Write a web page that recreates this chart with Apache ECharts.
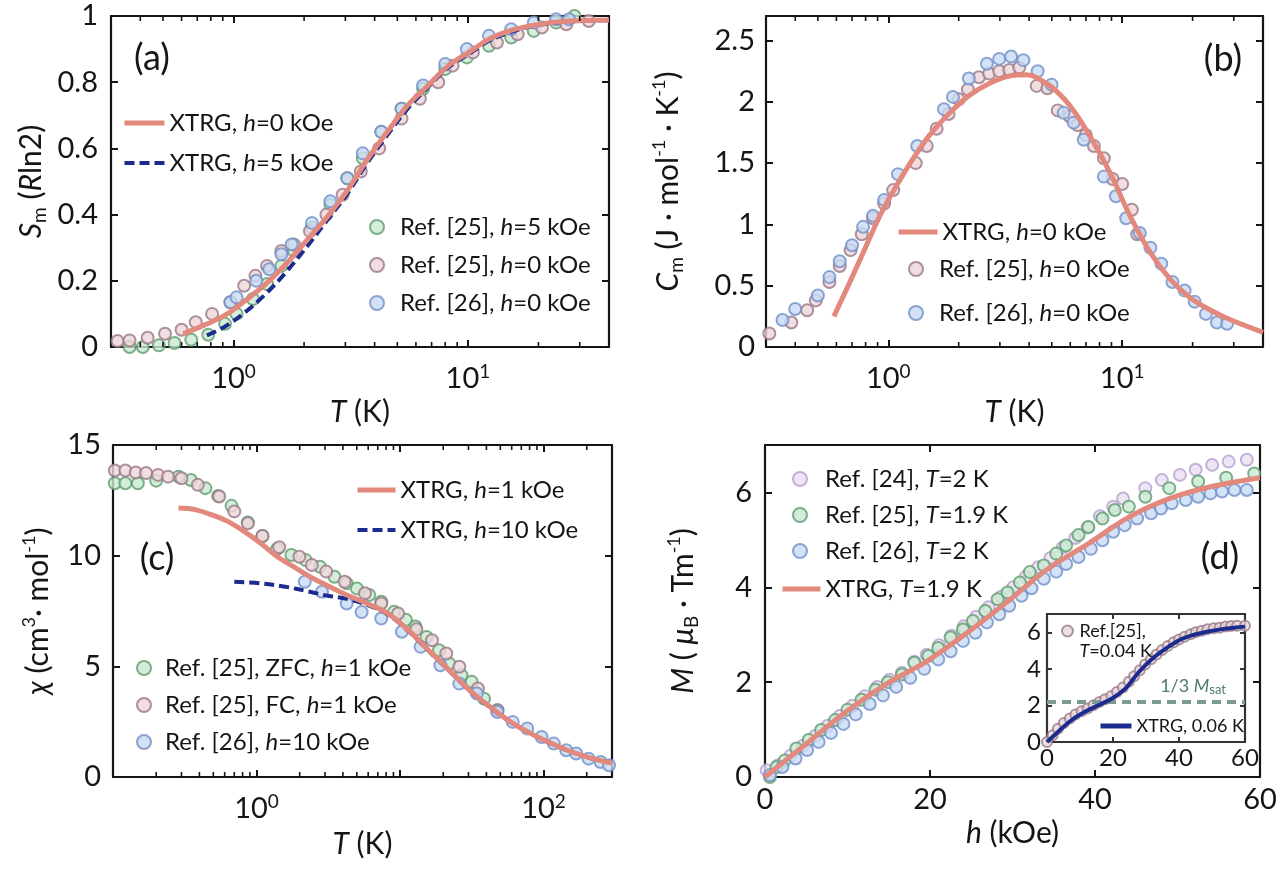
<!DOCTYPE html>
<html>
<head>
<meta charset="utf-8">
<title>XTRG vs experiment</title>
<script src="https://cdn.jsdelivr.net/npm/echarts@6/dist/echarts.min.js"></script>
<style>
html, body { margin: 0; padding: 0; background: #fff; }
#main { width: 1280px; height: 876px; }
</style>
</head>
<body>
<div id="main"></div>
<script>
// (a) magnetic entropy, S_m in units of R ln2
var aXtrg0T = [0.61, 0.75, 0.92, 1.12, 1.37, 1.67, 2.04, 2.49, 3.04, 3.71, 4.53, 5.53, 6.76, 8.26, 10.1, 12.3, 15.0, 18.4, 22.4, 27.4, 40];
var aXtrg0S = [0.04, 0.066, 0.096, 0.14, 0.19, 0.25, 0.32, 0.39, 0.47, 0.565, 0.65, 0.73, 0.79, 0.85, 0.89, 0.93, 0.955, 0.97, 0.98, 0.985, 0.988];
var aXtrg5T = [0.77, 0.92, 1.12, 1.37, 1.67, 2.04, 2.49, 3.04, 3.71, 4.53, 5.53, 6.76, 8.26, 10.1, 12.3, 15.0, 18.4, 22.4, 27.4, 40];
var aXtrg5S = [0.035, 0.062, 0.105, 0.16, 0.225, 0.3, 0.38, 0.46, 0.555, 0.64, 0.72, 0.785, 0.845, 0.885, 0.925, 0.95, 0.968, 0.978, 0.984, 0.987];
var aRef25h5T = [0.36, 0.41, 0.48, 0.56, 0.66, 0.78, 0.92, 1.03, 1.21, 1.39, 1.6, 1.81, 2.16, 2.59, 3.06, 3.56, 4.27, 5.21, 6.44, 8.0, 9.9, 12.3, 15.3, 19.1, 23.8, 28.5];
var aRef25h5S = [0.0, 0.0, 0.005, 0.012, 0.022, 0.037, 0.07, 0.1, 0.145, 0.19, 0.245, 0.29, 0.36, 0.43, 0.51, 0.57, 0.65, 0.72, 0.78, 0.84, 0.875, 0.91, 0.935, 0.955, 0.98, 1.0];
var aRef25h0T = [0.32, 0.36, 0.43, 0.51, 0.6, 0.69, 0.81, 0.97, 1.11, 1.24, 1.39, 1.6, 1.81, 2.12, 2.49, 2.92, 3.49, 4.18, 5.21, 6.24, 7.47, 8.6, 10.5, 13.3, 16.3, 20.7, 26.3, 32.8];
var aRef25h0S = [0.018, 0.02, 0.028, 0.04, 0.052, 0.075, 0.1, 0.135, 0.185, 0.215, 0.245, 0.29, 0.31, 0.35, 0.4, 0.46, 0.53, 0.6, 0.69, 0.75, 0.8, 0.85, 0.89, 0.92, 0.945, 0.965, 0.975, 0.985];
var aRef26T = [0.97, 1.03, 1.25, 1.42, 1.6, 1.77, 2.16, 2.59, 3.06, 3.56, 4.27, 5.21, 6.44, 8.0, 9.9, 12.3, 15.3, 19.1, 23.8, 27];
var aRef26S = [0.135, 0.15, 0.2, 0.235, 0.28, 0.31, 0.375, 0.44, 0.51, 0.585, 0.65, 0.72, 0.79, 0.855, 0.9, 0.94, 0.96, 0.98, 0.99, 0.99];

// (b) magnetic specific heat
var bXtrgT = [0.585, 0.67, 0.79, 0.92, 1.08, 1.27, 1.49, 1.81, 2.21, 2.70, 3.29, 3.9, 4.9, 5.97, 7.28, 8.88, 10.8, 13.2, 16.1, 19.6, 23.9, 29.2, 40];
var bXtrgC = [0.25, 0.49, 0.79, 1.07, 1.31, 1.53, 1.72, 1.90, 2.05, 2.15, 2.21, 2.22, 2.13, 1.97, 1.72, 1.42, 1.07, 0.77, 0.55, 0.40, 0.30, 0.22, 0.12];
var bRef25T = [0.31, 0.385, 0.45, 0.49, 0.56, 0.62, 0.69, 0.77, 0.86, 0.96, 1.05, 1.31, 1.46, 1.61, 1.81, 2.0, 2.19, 2.44, 2.70, 2.98, 3.29, 3.63, 4.31, 4.79, 5.3, 5.97, 6.45, 6.99, 7.57, 8.35, 9.1, 10.0, 11.0, 11.6];
var bRef25C = [0.11, 0.2, 0.30, 0.38, 0.53, 0.66, 0.79, 0.92, 1.05, 1.17, 1.28, 1.50, 1.64, 1.78, 1.90, 2.02, 2.10, 2.20, 2.23, 2.25, 2.26, 2.28, 2.13, 2.11, 1.93, 1.88, 1.81, 1.73, 1.64, 1.54, 1.37, 1.33, 1.12, 0.92];
var bRef26T = [0.353, 0.40, 0.50, 0.56, 0.62, 0.70, 0.78, 0.86, 0.96, 1.10, 1.33, 1.73, 1.89, 2.21, 2.64, 2.98, 3.35, 3.78, 4.35, 4.99, 5.62, 6.2, 6.85, 8.35, 9.4, 10.4, 11.9, 13.2, 14.7, 16.4, 18.5, 20.4, 22.8, 25.4, 28.1];
var bRef26C = [0.22, 0.31, 0.42, 0.57, 0.70, 0.83, 0.98, 1.07, 1.20, 1.41, 1.64, 1.94, 2.04, 2.19, 2.31, 2.35, 2.37, 2.34, 2.25, 2.14, 1.91, 1.83, 1.69, 1.39, 1.23, 1.05, 0.93, 0.81, 0.68, 0.53, 0.46, 0.37, 0.27, 0.20, 0.19];

// (c) susceptibility
var cXtrg1T = [0.286, 0.373, 0.485, 0.63, 0.82, 1.07, 1.39, 1.81, 2.35, 3.06, 4.25, 5.9, 8.2, 11.4, 15.8, 22, 30.5, 42.4, 58.9, 81.8, 114, 158, 220, 300];
var cXtrg1X = [12.15, 12.08, 11.85, 11.55, 11.1, 10.56, 9.96, 9.5, 9.05, 8.67, 8.22, 7.84, 7.39, 6.64, 5.73, 4.83, 3.92, 3.17, 2.49, 1.96, 1.51, 1.13, 0.83, 0.63];
var cXtrg10T = [0.70, 1.07, 1.58, 2.35, 3.06, 4.25, 5.9, 8.2, 11.4, 15.8, 22, 30.5, 42.4, 58.9, 81.8, 114, 158, 220, 300];
var cXtrg10X = [8.82, 8.75, 8.6, 8.37, 8.2, 8.05, 7.78, 7.35, 6.6, 5.7, 4.8, 3.9, 3.15, 2.48, 1.95, 1.5, 1.12, 0.83, 0.62];
var cZfcT = [0.103, 0.122, 0.149, 0.2, 0.286, 0.349, 0.44, 0.54, 0.67, 0.87, 1.1, 1.39, 1.75, 2.2, 2.77, 3.49, 4.25, 5.0, 6.1, 7.4, 9.1, 11.0, 12.8, 15.3, 18.7, 22, 26.8, 31.6, 38.5, 47.7];
var cZfcX = [13.27, 13.27, 13.27, 13.39, 13.57, 13.42, 13.05, 12.7, 12.25, 11.5, 10.89, 10.3, 10.03, 9.80, 9.5, 9.05, 8.75, 8.52, 8.22, 7.92, 7.47, 7.1, 6.8, 6.33, 5.73, 5.13, 4.6, 4.3, 3.54, 3.02];
var cFcT = [0.103, 0.122, 0.144, 0.17, 0.206, 0.242, 0.30, 0.39, 0.55, 0.70, 0.87, 1.10, 1.44, 1.99, 2.43, 3.06, 4.11, 5.7, 7.4, 9.7, 13, 16.7, 21, 25.9, 34.9, 47.7];
var cFcX = [13.85, 13.85, 13.76, 13.73, 13.65, 13.57, 13.5, 13.2, 12.67, 12.0, 11.46, 10.89, 10.38, 9.95, 9.58, 9.28, 8.82, 8.30, 7.84, 7.39, 6.67, 6.18, 5.58, 4.98, 4.0, 3.02];
var cRef26T = [2.17, 2.86, 4.25, 5.4, 7.4, 10.3, 13.9, 19.1, 25.9, 34.3, 47.7, 61, 77, 97, 118, 144, 169, 206, 250, 286];
var cRef26X = [8.82, 8.37, 7.84, 7.45, 7.16, 6.56, 5.88, 5.05, 4.22, 3.77, 2.94, 2.49, 2.19, 1.81, 1.51, 1.21, 1.06, 0.83, 0.68, 0.53];

// (d) magnetization curves
var dXtrgH = [0, 4.8, 9.7, 14.6, 19.6, 24.5, 29.4, 34.3, 39.2, 44.1, 49, 54, 60];
var dXtrgM = [0, 0.67, 1.36, 1.95, 2.44, 3.04, 3.7, 4.39, 4.92, 5.48, 5.87, 6.12, 6.31];
var dRef24H = [0.2, 1.6, 3.1, 4.6, 6.1, 7.6, 9.1, 10.6, 12.1, 13.6, 15.1, 16.6, 18.1, 19.6, 21.1, 22.6, 24.1, 25.6, 27.1, 28.6, 30.1, 31.6, 33.1, 34.6, 36.1, 37.6, 39.1, 40.6, 42.2, 43.4, 46.1, 48.1, 50.3, 52.2, 54.2, 56.2, 58.4];
var dRef24M = [0.14, 0.25, 0.45, 0.66, 0.87, 1.08, 1.29, 1.5, 1.7, 1.9, 2.05, 2.2, 2.43, 2.58, 2.78, 2.98, 3.18, 3.38, 3.58, 3.8, 4.0, 4.22, 4.42, 4.62, 4.84, 5.04, 5.26, 5.5, 5.7, 5.87, 6.09, 6.26, 6.37, 6.48, 6.58, 6.65, 6.69];
var dRef25H = [0.6, 1.4, 2.4, 3.8, 5.3, 6.8, 8.5, 10, 11.7, 13.4, 14.9, 16.6, 18.1, 19.8, 21, 22.5, 24, 25.2, 26.7, 28.2, 29.4, 30.9, 32.1, 33.8, 35.3, 36.5, 38, 39.2, 40.9, 42.4, 44.1, 46.1, 49, 52.5, 55.9, 59.3];
var dRef25M = [0, 0.21, 0.35, 0.6, 0.78, 0.99, 1.2, 1.42, 1.63, 1.84, 2.0, 2.16, 2.41, 2.55, 2.72, 2.94, 3.11, 3.29, 3.5, 3.75, 3.89, 4.1, 4.32, 4.46, 4.71, 4.88, 5.1, 5.27, 5.45, 5.63, 5.7, 5.91, 6.09, 6.23, 6.31, 6.4];
var dRef26H = [0.6, 2.1, 3.7, 5.1, 6.5, 8, 9.5, 11, 12.7, 14.3, 15.9, 17.6, 19.3, 21, 22.5, 24, 25.5, 26.9, 28.4, 29.6, 31.1, 32.3, 33.8, 35.3, 36.5, 38, 39.5, 40.9, 42.2, 43.6, 45.1, 46.8, 48, 49.3, 51, 52.5, 54, 55.4, 56.9, 58.4];
var dRef26M = [0.04, 0.21, 0.39, 0.57, 0.74, 0.93, 1.12, 1.32, 1.54, 1.72, 1.9, 2.09, 2.28, 2.48, 2.65, 2.87, 3.04, 3.26, 3.43, 3.61, 3.82, 3.98, 4.18, 4.33, 4.49, 4.64, 4.81, 4.99, 5.17, 5.31, 5.45, 5.56, 5.66, 5.77, 5.84, 5.91, 5.98, 6.02, 6.05, 6.05];

// (d) inset, low temperature
var iRefH = [0, 1.7, 3.3, 5.1, 6.9, 8.6, 10.5, 12.3, 14.1, 15.9, 17.6, 19.5, 21.2, 23, 24.8, 26.4, 28.1, 29.7, 31.5, 33.2, 34.9, 36.6, 38.4, 40, 41.7, 43.5, 45.1, 46.9, 48.6, 50.5, 52.3, 54.1, 55.8, 57.6, 60];
var iRefM = [0, 0.37, 0.73, 1.04, 1.28, 1.5, 1.68, 1.83, 2.01, 2.19, 2.34, 2.52, 2.74, 2.98, 3.29, 3.6, 3.93, 4.24, 4.52, 4.79, 5.03, 5.25, 5.45, 5.61, 5.76, 5.89, 6.0, 6.09, 6.16, 6.22, 6.25, 6.31, 6.34, 6.36, 6.36];
var iXtrgH = [0, 3.3, 7.4, 11.5, 15.6, 19.7, 23.8, 27.9, 32, 36.1, 40.2, 44.3, 48.4, 52.5, 56.6, 60];
var iXtrgM = [0, 0.55, 1.19, 1.65, 2.01, 2.38, 2.93, 3.84, 4.57, 5.12, 5.58, 5.85, 6.03, 6.16, 6.25, 6.31];
var iMsatThird = 2.2;

// decades that get a 10^n label
var aDecades = [0, 1];
var bDecades = [0, 1];
var cDecades = [0, 2];

var FONT = 'Lato, "Open Sans", "DejaVu Sans", sans-serif';
var INK = '#151515';
var SALMON = '#e2887c';
var NAVY = '#1b2c8e';

var green = {color: '#cbe8d2', borderColor: '#5e9d6e', borderWidth: 2};
var pink = {color: '#eed6d9', borderColor: '#9a7787', borderWidth: 2};
var blue = {color: '#c8dbf4', borderColor: '#7090c8', borderWidth: 2};
var purple = {color: '#ebdff2', borderColor: '#b7a0d0', borderWidth: 2};

function pairs(xs, ys) {
	var out = [];
	for (var i = 0; i < xs.length; i++) {
		out.push([xs[i], ys[i]]);
	}
	return out;
}

var tickRich = {
	b: {fontSize: 29, fontFamily: FONT, color: INK, lineHeight: 34},
	s: {fontSize: 19, fontFamily: FONT, color: INK, lineHeight: 19, verticalAlign: 'top'}
};
var nameRich = {
	i: {fontSize: 30, fontFamily: FONT, color: INK, fontStyle: 'italic', lineHeight: 36},
	sub: {fontSize: 19, fontFamily: FONT, color: INK, lineHeight: 19, verticalAlign: 'bottom'},
	sup: {fontSize: 18, fontFamily: FONT, color: INK, lineHeight: 18, verticalAlign: 'top'}
};

function decadeLabel(exps) {
	return function (v) {
		var l = Math.log(v) / Math.LN10;
		var e = Math.round(l);
		if (Math.abs(l - e) > 1e-6 || exps.indexOf(e) < 0) {
			return '';
		}
		return '{b|10}{s|' + e + '}';
	};
}

var xAxes = [];
var yAxes = [];

function axisBase(grid, c, pos) {
	var col = c.color || INK;
	var ax = {
		gridIndex: grid,
		type: c.type || 'value',
		position: pos,
		min: c.min,
		max: c.max,
		axisLine: {show: true, onZero: false, lineStyle: {color: col, width: 2.2}},
		axisTick: {show: true, inside: true, length: c.tickLen || 7, lineStyle: {color: col, width: 2}},
		splitLine: {show: false},
		axisLabel: {show: false}
	};
	if (c.interval) ax.interval = c.interval;
	if (ax.type === 'log') ax.logBase = 10;
	return ax;
}

function nameStyle() {
	return {fontSize: 30, fontFamily: FONT, color: INK, lineHeight: 36, rich: nameRich};
}

// one panel = bottom+top x axes and left+right y axes (closed box)
function addAxes(grid, xc, yc) {
	var xi = xAxes.length, yi = yAxes.length;
	var xb = axisBase(grid, xc, 'bottom');
	xb.axisLabel = xc.label;
	if (xc.name) {
		xb.name = xc.name;
		xb.nameLocation = 'middle';
		xb.nameGap = xc.nameGap;
		xb.nameTextStyle = nameStyle();
	}
	xAxes.push(xb, axisBase(grid, xc, 'top'));
	var yl = axisBase(grid, yc, 'left');
	yl.axisLabel = yc.label;
	if (yc.name) {
		yl.name = yc.name;
		yl.nameLocation = 'middle';
		yl.nameGap = yc.nameGap;
		yl.nameTextStyle = nameStyle();
	}
	yAxes.push(yl, axisBase(grid, yc, 'right'));
	return {x: xi, y: yi};
}

function plainLabel(margin, extra) {
	var l = {show: true, fontSize: 29, fontFamily: FONT, color: INK, margin: margin};
	for (var k in extra) l[k] = extra[k];
	return l;
}

var grids = [
	{left: 111, top: 16, width: 498, height: 331},
	{left: 766, top: 16, width: 497, height: 331},
	{left: 113, top: 445, width: 499, height: 332},
	{left: 765, top: 445, width: 495, height: 332},
	{left: 1047, top: 614, width: 198, height: 128, show: true, backgroundColor: '#fff', borderWidth: 0}
];
for (var g = 0; g < grids.length; g++) {
	grids[g].containLabel = false;
	grids[g].outerBoundsMode = 'none';
}

var axA = addAxes(0,
	{type: 'log', min: 0.3, max: 40, name: '{i|T} (K)', nameGap: 42,
		label: {show: true, margin: 15, formatter: decadeLabel(aDecades), rich: tickRich}},
	{min: 0, max: 1, interval: 0.2, name: '{i|S}{sub|m} ({i|R}ln2)', nameGap: 62,
		label: plainLabel(13)});
var axB = addAxes(1,
	{type: 'log', min: 0.3, max: 40, name: '{i|T} (K)', nameGap: 42,
		label: {show: true, margin: 15, formatter: decadeLabel(bDecades), rich: tickRich}},
	{min: 0, max: 2.7, interval: 0.5, name: '{i|C}{sub|m} (J \u00b7 mol{sup|-1} \u00b7 K{sup|-1})', nameGap: 80,
		label: plainLabel(11, {showMaxLabel: false})});
var axC = addAxes(2,
	{type: 'log', min: 0.1, max: 300, name: '{i|T} (K)', nameGap: 49,
		label: {show: true, margin: 15, formatter: decadeLabel(cDecades), rich: tickRich}},
	{min: 0, max: 15, interval: 5, name: '{i|\u03c7} (cm{sup|3}\u00b7 mol{sup|-1})', nameGap: 57,
		label: plainLabel(12)});
var axD = addAxes(3,
	{min: 0, max: 60, interval: 20, name: '{i|h} (kOe)', nameGap: 37,
		label: plainLabel(8)},
	{min: 0, max: 7, interval: 2, name: '{i|M} ( {i|\u03bc}{sub|B} \u00b7 Tm{sup|-1})', nameGap: 64,
		label: plainLabel(13, {showMaxLabel: false})});
var axI = addAxes(4,
	{min: 0, max: 60, interval: 20, color: '#333', tickLen: 5,
		label: {show: true, fontSize: 24, fontFamily: FONT, color: INK, margin: 4}},
	{min: 0, max: 7, interval: 2, color: '#333', tickLen: 5,
		label: {show: true, fontSize: 24, fontFamily: FONT, color: INK, margin: 6, showMaxLabel: false}});

function scatter(name, ax, data, style, size) {
	return {
		name: name, type: 'scatter', xAxisIndex: ax.x, yAxisIndex: ax.y,
		data: data, symbol: 'circle', symbolSize: size || 12, clip: false,
		itemStyle: style, z: 3, silent: true
	};
}

function curve(name, ax, data, color, width, dash, z) {
	return {
		name: name, type: 'line', xAxisIndex: ax.x, yAxisIndex: ax.y,
		data: data, smooth: 0.35, symbol: 'none', showSymbol: false,
		lineStyle: {color: color, width: width, type: dash || 'solid'},
		itemStyle: {color: color}, z: z || 5, silent: true
	};
}

// minor ticks of a log axis at 2..9 x 10^k, on bottom and top edge
function minorTicks(ax, lo, hi, yLo, yHi) {
	var vals = [];
	for (var k = Math.floor(Math.log(lo) / Math.LN10); Math.pow(10, k) <= hi; k++) {
		for (var m = 2; m <= 9; m++) {
			var v = m * Math.pow(10, k);
			if (v > lo * 1.0001 && v < hi * 0.9999) vals.push([v, yLo]);
		}
	}
	return {
		type: 'custom', xAxisIndex: ax.x, yAxisIndex: ax.y, silent: true, z: 6,
		data: vals,
		renderItem: function (params, api) {
			var b = api.coord([api.value(0), yLo]);
			var t = api.coord([api.value(0), yHi]);
			return {
				type: 'group',
				children: [
					{type: 'line', shape: {x1: b[0], y1: b[1], x2: b[0], y2: b[1] - 5}, style: {stroke: INK, lineWidth: 1.6}},
					{type: 'line', shape: {x1: t[0], y1: t[1], x2: t[0], y2: t[1] + 5}, style: {stroke: INK, lineWidth: 1.6}}
				]
			};
		}
	};
}

var series = [
	scatter('a-g', axA, pairs(aRef25h5T, aRef25h5S), green),
	scatter('a-p', axA, pairs(aRef25h0T, aRef25h0S), pink),
	scatter('a-b', axA, pairs(aRef26T, aRef26S), blue),
	curve('a-x5', axA, pairs(aXtrg5T, aXtrg5S), NAVY, 4, [10, 5], 4),
	curve('a-x0', axA, pairs(aXtrg0T, aXtrg0S), SALMON, 5),
	minorTicks(axA, 0.3, 40, 0, 1),

	scatter('b-p', axB, pairs(bRef25T, bRef25C), pink),
	scatter('b-b', axB, pairs(bRef26T, bRef26C), blue),
	curve('b-x', axB, pairs(bXtrgT, bXtrgC), SALMON, 5),
	minorTicks(axB, 0.3, 40, 0, 2.7),

	scatter('c-g', axC, pairs(cZfcT, cZfcX), green),
	scatter('c-p', axC, pairs(cFcT, cFcX), pink),
	scatter('c-b', axC, pairs(cRef26T, cRef26X), blue),
	curve('c-x10', axC, pairs(cXtrg10T, cXtrg10X), NAVY, 4, [10, 5], 4),
	curve('c-x1', axC, pairs(cXtrg1T, cXtrg1X), SALMON, 5),
	minorTicks(axC, 0.1, 300, 0, 15),

	scatter('d-24', axD, pairs(dRef24H, dRef24M), purple),
	scatter('d-25', axD, pairs(dRef25H, dRef25M), green),
	scatter('d-26', axD, pairs(dRef26H, dRef26M), blue),
	curve('d-x', axD, pairs(dXtrgH, dXtrgM), SALMON, 5),

	{
		name: 'i-msat', type: 'line', xAxisIndex: axI.x, yAxisIndex: axI.y, data: [], z: 2, silent: true,
		markLine: {
			silent: true, symbol: 'none',
			lineStyle: {color: '#7d9b93', width: 4, type: [9, 6]},
			label: {
				show: true, position: 'insideEndTop', distance: 5,
				padding: [0, 14, 0, 0],
				formatter: '1/3 {i|M}{sub|sat}',
				fontSize: 18, fontFamily: FONT, color: '#4e7b6d',
				rich: {
					i: {fontSize: 18, fontFamily: FONT, color: '#4e7b6d', fontStyle: 'italic', lineHeight: 21},
					sub: {fontSize: 13, fontFamily: FONT, color: '#4e7b6d', lineHeight: 13, verticalAlign: 'bottom'}
				}
			},
			data: [{yAxis: iMsatThird}]
		}
	},
	scatter('i-p', axI, pairs(iRefH, iRefM), {color: '#ead7db', borderColor: '#9a7c8a', borderWidth: 2}, 10),
	curve('i-x', axI, pairs(iXtrgH, iXtrgM), NAVY, 4)
];

var legendText = {
	'a-x0': 'XTRG, {i|h}=0 kOe',
	'a-x5': 'XTRG, {i|h}=5 kOe',
	'a-g': 'Ref. [25], {i|h}=5 kOe',
	'a-p': 'Ref. [25], {i|h}=0 kOe',
	'a-b': 'Ref. [26], {i|h}=0 kOe',
	'b-x': 'XTRG, {i|h}=0 kOe',
	'b-p': 'Ref. [25], {i|h}=0 kOe',
	'b-b': 'Ref. [26], {i|h}=0 kOe',
	'c-x1': 'XTRG, {i|h}=1 kOe',
	'c-x10': 'XTRG, {i|h}=10 kOe',
	'c-g': 'Ref. [25], ZFC, {i|h}=1 kOe',
	'c-p': 'Ref. [25], FC, {i|h}=1 kOe',
	'c-b': 'Ref. [26], {i|h}=10 kOe',
	'd-24': 'Ref. [24], {i|T}=2 K',
	'd-25': 'Ref. [25], {i|T}=1.9 K',
	'd-26': 'Ref. [26], {i|T}=2 K',
	'd-x': 'XTRG, {i|T}=1.9 K',
	'i-p': 'Ref.[25],\n{i|T}=0.04 K',
	'i-x': 'XTRG, 0.06 K'
};

// lineItems: entries are line series -> hide the legend's centre dot
function legendBox(names, left, top, iw, ih, gap, fs, lh, lineItems, pad) {
	var ts = {
		fontSize: fs, fontFamily: FONT, color: INK, lineHeight: lh,
		rich: {i: {fontSize: fs, fontFamily: FONT, color: INK, fontStyle: 'italic', lineHeight: lh}}
	};
	if (pad) ts.padding = pad;
	var data = [];
	for (var i = 0; i < names.length; i++) {
		var w = names[i].indexOf('x5') > 0 || names[i].indexOf('x10') > 0 ? 4 : 5;
		data.push(lineItems ? {name: names[i], lineStyle: {width: w}} : {name: names[i]});
	}
	var lg = {
		data: data, left: left, top: top, orient: 'vertical',
		itemWidth: iw, itemHeight: ih, itemGap: gap, padding: 0,
		selectedMode: false, textStyle: ts,
		formatter: function (name) { return legendText[name] || name; }
	};
	if (lineItems) {
		lg.itemStyle = {opacity: 0, borderWidth: 0};
		lg.lineStyle = {width: 5};
	}
	return lg;
}

// marker legends: square icon box, extra gap before the text
var mPad = [0, 0, 0, 11];
var legends = [
	legendBox(['a-x0', 'a-x5'], 122, 110, 40, 14, 14, 24, 26, true),
	legendBox(['a-g', 'a-p', 'a-b'], 369, 214, 14, 14, 12, 24, 26, false, mPad),
	legendBox(['b-x'], 896, 219, 39, 14, 14, 24, 26, true),
	legendBox(['b-p', 'b-b'], 908, 256, 14, 14, 18, 24, 26, false, mPad),
	legendBox(['c-x1', 'c-x10'], 355, 477, 38, 14, 14, 24, 26, true),
	legendBox(['c-g', 'c-p', 'c-b'], 136, 655, 14, 14, 11, 24, 26, false, [0, 0, 0, 9]),
	legendBox(['d-24', 'd-25', 'd-26'], 792, 466, 14, 14, 10, 24, 26, false, [0, 0, 0, 13]),
	legendBox(['d-x'], 780, 576, 38, 14, 12, 24, 26, true),
	legendBox(['i-p'], 1061, 601, 14, 11, 8, 18, 20, false, [20, 0, 0, 0]),
	legendBox(['i-x'], 1098, 716, 31, 12, 8, 18, 20, true)
];

function panelTag(text, x, y) {
	return {
		type: 'text', x: x, y: y, z: 20, silent: true,
		style: {text: text, fontSize: 36, fontFamily: FONT, fill: INK, align: 'center', verticalAlign: 'middle'}
	};
}

var option = {
	backgroundColor: '#fff',
	animation: false,
	grid: grids,
	xAxis: xAxes,
	yAxis: yAxes,
	legend: legends,
	series: series,
	graphic: [
		panelTag('(a)', 152, 58),
		panelTag('(b)', 1223, 59),
		panelTag('(c)', 157, 558),
		panelTag('(d)', 1220, 557)
	]
};

var chart = echarts.init(document.getElementById('main'), null, {renderer: 'canvas'});
chart.setOption(option);
</script>
</body>
</html>
